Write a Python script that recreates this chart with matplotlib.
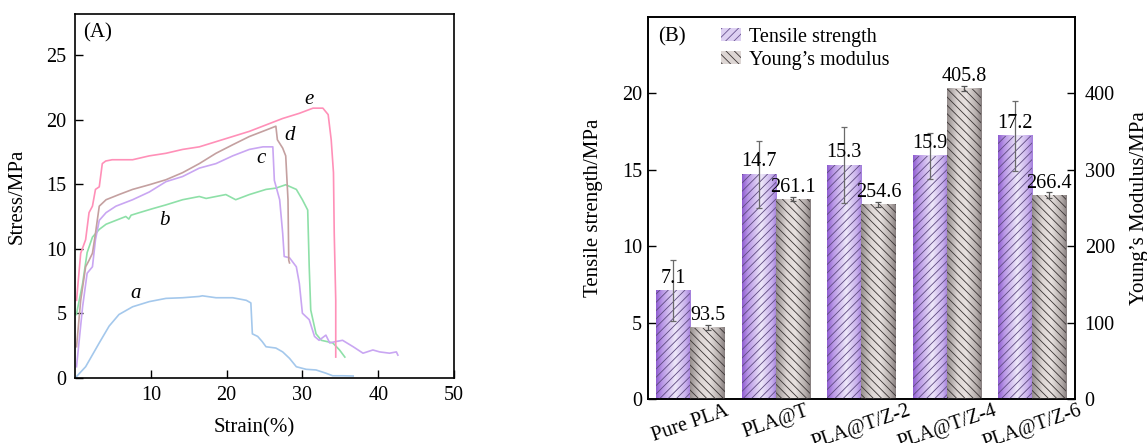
import numpy as np
import matplotlib
matplotlib.use('Agg')
import matplotlib.pyplot as plt
from matplotlib.colors import LinearSegmentedColormap
from matplotlib.patches import Patch

plt.rcParams['font.family'] = ['Liberation Serif', 'DejaVu Serif']
plt.rcParams['hatch.linewidth'] = 0.6

# ---------------- Panel A: stress-strain curves ----------------
a_x = [0.18, 1.4, 3.2, 4.5, 5.8, 7.6, 9.8, 12.0, 14.2, 16.4, 16.8, 18.6, 20.8, 22.6, 23.2, 23.4,
       24.1, 24.7, 25.2, 26.5, 27.4, 28.3, 29.2, 30.5, 31.8, 33.1, 34.0, 35.3, 36.7]
a_y = [0.08, 0.85, 2.7, 4.0, 4.9, 5.5, 5.9, 6.15, 6.2, 6.3, 6.35, 6.2, 6.2, 6.0, 5.8, 3.4,
       3.2, 2.8, 2.4, 2.3, 2.0, 1.5, 0.85, 0.65, 0.6, 0.35, 0.15, 0.15, 0.13]

b_x = [0.18, 1.0, 1.6, 2.3, 3.2, 4.1, 5.4, 6.7, 7.1, 7.4, 8.5, 10.2, 12.0, 14.2, 16.4, 17.3,
       19.9, 21.2, 23.0, 25.2, 26.5, 27.8, 29.2, 30.0, 30.7, 30.9, 31.1, 31.8, 32.5, 34.0, 34.9, 35.6]
b_y = [4.9, 7.3, 9.7, 10.9, 11.5, 11.9, 12.2, 12.5, 12.3, 12.6, 12.8, 13.1, 13.4, 13.8, 14.05, 13.9,
       14.2, 13.8, 14.2, 14.6, 14.7, 14.96, 14.6, 13.8, 13.0, 8.6, 5.25, 3.4, 2.9, 2.7, 2.15, 1.6]

c_x = [0.2, 1.0, 1.6, 2.3, 2.7, 3.2, 4.1, 5.4, 7.6, 9.8, 12.0, 14.2, 16.4, 18.6, 20.8, 23.0,
       24.8, 26.1, 26.3, 27.0, 27.4, 27.6, 28.3, 29.2, 29.6, 30.0, 30.9, 31.6, 32.2, 33.1, 33.6,
       34.4, 35.3, 36.7, 38.0, 39.3, 40.2, 41.5, 42.4, 42.6]
c_y = [0.85, 5.5, 8.1, 8.6, 10.7, 12.2, 12.8, 13.3, 13.8, 14.4, 15.2, 15.6, 16.25, 16.6, 17.2, 17.7,
       17.9, 17.9, 15.3, 13.8, 11.2, 9.4, 9.3, 8.6, 7.3, 5.0, 4.5, 3.2, 2.9, 3.3, 2.7,
       2.8, 2.9, 2.4, 1.9, 2.15, 2.0, 1.9, 2.0, 1.75]

d_x = [0.2, 0.75, 1.4, 1.85, 2.3, 2.7, 3.2, 4.1, 5.8, 7.6, 9.8, 12.0, 14.2, 16.4, 18.6, 20.8,
       23.0, 25.2, 26.5, 26.7, 27.4, 27.8, 28.1, 28.2, 28.3]
d_y = [2.4, 6.0, 8.6, 9.1, 9.65, 11.2, 13.3, 13.8, 14.2, 14.6, 14.96, 15.35, 15.9, 16.6, 17.4, 18.06,
       18.7, 19.2, 19.5, 18.45, 17.8, 17.2, 13.8, 9.1, 8.9]

e_x = [0.2, 0.75, 1.4, 1.85, 2.3, 2.7, 3.2, 3.6, 4.05, 4.9, 7.6, 9.8, 12.0, 14.2, 16.4, 18.6,
       20.8, 23.0, 25.2, 27.4, 29.6, 31.4, 32.7, 33.4, 33.8, 34.1, 34.2, 34.4, 34.4]
e_y = [6.0, 9.65, 10.7, 12.8, 13.3, 14.6, 14.8, 16.6, 16.8, 16.9, 16.9, 17.2, 17.4, 17.7, 17.9, 18.3,
       18.7, 19.1, 19.6, 20.1, 20.5, 20.9, 20.9, 20.4, 18.45, 15.9, 11.2, 6.0, 1.6]

curve_names = ['a', 'b', 'c', 'd', 'e']
curve_label_x = [8.0, 11.8, 24.6, 28.3, 30.9]
curve_label_y = [6.55, 12.2, 17.0, 18.8, 21.6]

# ---------------- Panel B: bar data ----------------
samples = ['Pure PLA', 'PLA@T', 'PLA@T/Z-2', 'PLA@T/Z-4', 'PLA@T/Z-6']
tensile = [7.1, 14.7, 15.3, 15.9, 17.2]
tensile_err = [2.0, 2.2, 2.5, 1.5, 2.3]
modulus = [93.5, 261.1, 254.6, 405.8, 266.4]
modulus_err = [3.0, 2.5, 3.0, 3.0, 4.0]

fig = plt.figure(figsize=(11.47, 4.43), dpi=100)

# ===== Panel A =====
axA = fig.add_axes([0.0654, 0.1474, 0.3304, 0.821])
colors = ['#a4c8ec', '#8ee0a8', '#c9a6f2', '#c4a0a0', '#ff90b8']
for xs, ys, col in zip([a_x, b_x, c_x, d_x, e_x], [a_y, b_y, c_y, d_y, e_y], colors):
    axA.plot(xs, ys, color=col, lw=1.2)
for nm, lx, ly in zip(curve_names, curve_label_x, curve_label_y):
    axA.text(lx, ly, nm, fontsize=15, style='italic', ha='center', va='center')
axA.set_xlim(0, 50)
axA.set_ylim(0, 28.2)
axA.set_xticks([10, 20, 30, 40, 50])
axA.set_yticks([0, 5, 10, 15, 20, 25])
axA.tick_params(direction='in', length=6, width=1.0, labelsize=14.5)
axA.tick_params(axis='y', pad=6)
axA.tick_params(axis='x', pad=6)
for sp in axA.spines.values():
    sp.set_linewidth(1.2)
axA.set_xlabel('Strain(%)', fontsize=15)
axA.set_ylabel('Stress/MPa', fontsize=15)
axA.xaxis.set_label_coords(0.472, -0.111)
axA.yaxis.set_label_coords(-0.129, 0.5)
axA.text(0.021, 0.948, '(A)', transform=axA.transAxes, fontsize=15, ha='left', va='center')

# ===== Panel B =====
axB = fig.add_axes([0.5647, 0.0993, 0.3725, 0.863])
axR = axB.twinx()
x = np.arange(len(samples))
w = 0.4

purple_cmap = LinearSegmentedColormap.from_list('pur', [
    (0.0, '#8e5cd0'), (0.18, '#b997e6'), (0.55, '#eee8f9'), (0.85, '#c8b0ec'), (1.0, '#a27ddb')])
gray_cmap = LinearSegmentedColormap.from_list('gry', [
    (0.0, '#948c8c'), (0.3, '#ddd6d4'), (0.55, '#e8e2e0'), (0.85, '#b4acaa'), (1.0, '#857d7d')])
grad = np.linspace(0, 1, 256).reshape(1, -1)

barsT = axB.bar(x - w / 2, tensile, w, facecolor='none', edgecolor='#5e4a80',
                linewidth=0, hatch='////', zorder=3)
for b in barsT:
    x0, h = b.get_x(), b.get_height()
    axB.imshow(grad, extent=[x0, x0 + b.get_width(), 0, h], aspect='auto',
               cmap=purple_cmap, zorder=2, interpolation='bilinear')
axB.errorbar(x - w / 2, tensile, yerr=tensile_err, fmt='none', ecolor='#6a6a6a',
             elinewidth=0.9, capsize=2.5, capthick=0.9, zorder=4)
for xi, v in zip(x - w / 2, tensile):
    axB.annotate(f'{v}', (xi, v), xytext=(0, 2), textcoords='offset points',
                 ha='center', va='bottom', fontsize=14.5, zorder=5)

barsY = axR.bar(x + w / 2, modulus, w, facecolor='none', edgecolor='#3a3434',
                linewidth=0, hatch='\\\\\\\\', zorder=3)
for b in barsY:
    x0, h = b.get_x(), b.get_height()
    axR.imshow(grad, extent=[x0, x0 + b.get_width(), 0, h], aspect='auto',
               cmap=gray_cmap, zorder=2, interpolation='bilinear')
axR.errorbar(x + w / 2, modulus, yerr=modulus_err, fmt='none', ecolor='#555555',
             elinewidth=0.9, capsize=2.5, capthick=0.9, zorder=4)
for xi, v in zip(x + w / 2, modulus):
    axR.annotate(f'{v}', (xi, v), xytext=(0, 2), textcoords='offset points',
                 ha='center', va='bottom', fontsize=14.5, zorder=5)

axB.set_xlim(-0.5, 4.5)
axR.set_xlim(-0.5, 4.5)
axB.set_ylim(0, 25)
axR.set_ylim(0, 500)
axB.set_yticks([0, 5, 10, 15, 20])
axR.set_yticks([0, 100, 200, 300, 400])
axB.set_xticks(x)
axB.set_xticklabels(samples, rotation=19, ha='center')
axB.tick_params(axis='x', length=0, pad=2, labelsize=14.5)
axB.tick_params(axis='y', direction='in', length=6, width=1.0, labelsize=14.5, pad=4)
axR.tick_params(axis='y', direction='in', length=6, width=1.0, labelsize=14.5, pad=7)
for sp in axB.spines.values():
    sp.set_linewidth(1.2)
for sp in axR.spines.values():
    sp.set_linewidth(1.2)
axB.set_ylabel('Tensile strength/MPa', fontsize=15)
axB.yaxis.set_label_coords(-0.105, 0.5)
axR.set_ylabel('Young\u2019s Modulus/MPa', fontsize=15)
axR.yaxis.set_label_coords(1.129, 0.5)
axB.text(0.024, 0.947, '(B)', transform=axB.transAxes, fontsize=15, ha='left', va='center')

handles = [Patch(facecolor='#ddd0f2', edgecolor='#6a5490', hatch='////', linewidth=0),
           Patch(facecolor='#ddd6d4', edgecolor='#3a3434', hatch='\\\\\\\\', linewidth=0)]
axR.legend(handles, ['Tensile strength', 'Young\u2019s modulus'], loc='upper left',
           bbox_to_anchor=(0.145, 1.0), frameon=False, fontsize=14.5, handlelength=1.0,
           handleheight=0.6, handletextpad=0.4, labelspacing=0.2, borderaxespad=0.15)

fig.savefig('out.png', dpi=100)
